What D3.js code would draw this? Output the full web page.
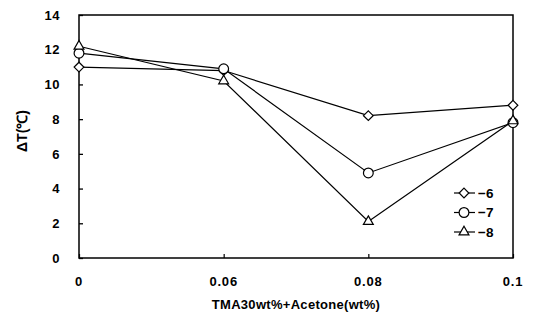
<!DOCTYPE html>
<html>
<head>
<meta charset="utf-8">
<script src="https://cdn.jsdelivr.net/npm/d3@7"></script>
<style>
  body { margin: 0; background: #fff; }
  svg { font-family: "Liberation Sans", Arial, sans-serif; font-weight: bold; }
</style>
</head>
<body>
<div id="chart"></div>
<script>
const categories = ["0", "0.06", "0.08", "0.1"];
const seriesNames = ["-6", "-7", "-8"];
const s6 = [11.0, 10.8, 8.2, 8.8];
const s7 = [11.8, 10.9, 4.9, 7.8];
const s8 = [12.2, 10.2, 2.1, 7.9];
const yTicks = [0, 2, 4, 6, 8, 10, 12, 14];

const width = 533, height = 320;
const margin = { left: 79, right: 20, top: 15, bottom: 62 };

const svg = d3.select("#chart").append("svg")
    .attr("width", width)
    .attr("height", height);

const x = d3.scalePoint()
    .domain(categories)
    .range([margin.left, width - margin.right]);

const y = d3.scaleLinear()
    .domain([0, 14])
    .range([height - margin.bottom, margin.top]);

// frame
svg.append("rect")
    .attr("x", margin.left)
    .attr("y", margin.top)
    .attr("width", width - margin.right - margin.left)
    .attr("height", height - margin.bottom - margin.top)
    .attr("fill", "none")
    .attr("stroke", "#000")
    .attr("stroke-width", 1.5);

// y axis, ticks pointing inward
const yAxis = svg.append("g")
    .attr("transform", `translate(${margin.left},0)`)
    .call(d3.axisRight(y).tickValues(yTicks).tickSize(4).tickFormat(""));
yAxis.select(".domain").remove();
yAxis.selectAll("line").attr("stroke-width", 1.3);

svg.append("g").selectAll("text")
    .data(yTicks)
    .join("text")
    .attr("x", margin.left - 19)
    .attr("y", d => y(d))
    .attr("dy", "0.36em")
    .attr("text-anchor", "end")
    .attr("font-size", 13)
    .attr("letter-spacing", 0.5)
    .text(d => d);

// x axis, ticks pointing inward
const xAxis = svg.append("g")
    .attr("transform", `translate(0,${height - margin.bottom})`)
    .call(d3.axisTop(x).tickSize(4).tickFormat(""));
xAxis.select(".domain").remove();
xAxis.selectAll("line").attr("stroke-width", 1.2);

svg.append("g").selectAll("text")
    .data(categories)
    .join("text")
    .attr("x", d => x(d))
    .attr("y", 286)
    .attr("text-anchor", "middle")
    .attr("font-size", 13)
    .attr("letter-spacing", 0.8)
    .text(d => d);

svg.append("text")
    .attr("x", (margin.left + width - margin.right) / 2)
    .attr("y", 309)
    .attr("text-anchor", "middle")
    .attr("font-size", 13)
    .attr("letter-spacing", 0.3)
    .text("TMA30wt%+Acetone(wt%)");

svg.append("text")
    .attr("transform", "translate(27,131) rotate(-90)")
    .attr("text-anchor", "middle")
    .attr("font-size", 14)
    .text("ΔT(℃)");

// markers
const shapes = [
    d3.symbol().type(d3.symbolDiamond2).size(60),
    d3.symbol().type(d3.symbolCircle).size(75),
    d3.symbol().type(d3.symbolTriangle2).size(70)
];
const allSeries = [s6, s7, s8];

const line = d3.line()
    .x((d, i) => x(categories[i]))
    .y(d => y(d));

allSeries.forEach((vals, k) => {
    svg.append("path")
        .datum(vals)
        .attr("d", line)
        .attr("fill", "none")
        .attr("stroke", "#000")
        .attr("stroke-width", 1.2);
    svg.append("g").selectAll("path")
        .data(vals)
        .join("path")
        .attr("transform", (d, i) => `translate(${x(categories[i])},${y(d)})`)
        .attr("d", shapes[k]())
        .attr("fill", "#fff")
        .attr("stroke", "#000")
        .attr("stroke-width", 1.2);
});

// legend
const legend = svg.append("g");
seriesNames.forEach((name, k) => {
    const ly = 193 + k * 19.5;
    legend.append("line")
        .attr("x1", 454).attr("x2", 475)
        .attr("y1", ly).attr("y2", ly)
        .attr("stroke", "#000")
        .attr("stroke-width", 1.2);
    legend.append("path")
        .attr("transform", `translate(464,${ly})`)
        .attr("d", shapes[k]())
        .attr("fill", "#fff")
        .attr("stroke", "#000")
        .attr("stroke-width", 1.2);
    legend.append("text")
        .attr("x", 478)
        .attr("y", ly)
        .attr("dy", "0.36em")
        .attr("font-size", 13.5)
        .text(name.replace("-", "\u2212"));
});
</script>
</body>
</html>
